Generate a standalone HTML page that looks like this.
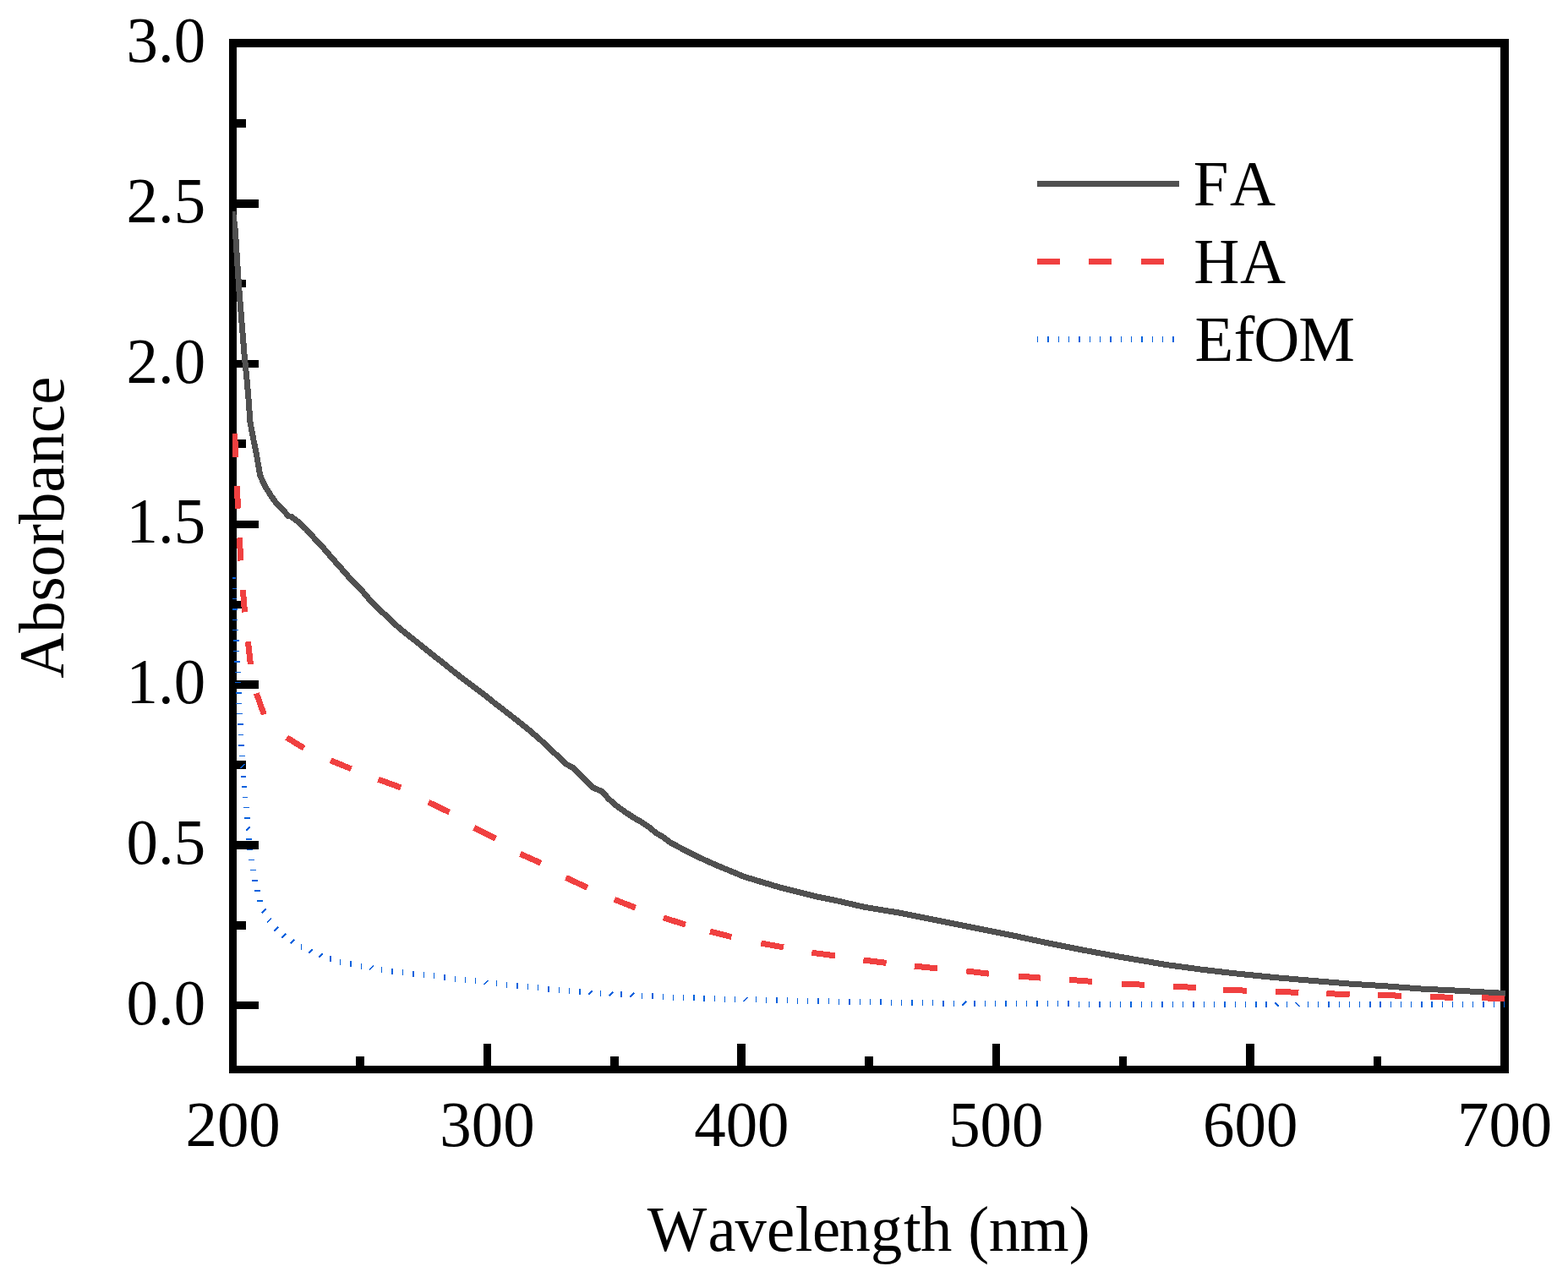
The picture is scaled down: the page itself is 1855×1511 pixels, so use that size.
<!DOCTYPE html>
<html lang="en">
<head>
<meta charset="utf-8">
<title>UV-Vis absorbance spectra</title>
<style>
html,body{margin:0;padding:0;background:#fff;}
body{width:1855px;height:1511px;overflow:hidden;}
svg{display:block;}
</style>
</head>
<body>
<svg width="1855" height="1511" viewBox="0 0 1855 1511">
<rect width="1855" height="1511" fill="#fff"/>
<g id="frame" shape-rendering="crispEdges">
<rect x="271" y="46" width="9" height="1224" fill="#000"/>
<rect x="1775" y="46" width="10" height="1224" fill="#000"/>
<rect x="271" y="46" width="1514" height="10" fill="#000"/>
<rect x="271" y="1261" width="1514" height="9" fill="#000"/>
<rect x="279" y="141" width="12" height="10" fill="#000"/>
<rect x="279" y="236" width="27" height="10" fill="#000"/>
<rect x="279" y="331" width="12" height="9" fill="#000"/>
<rect x="279" y="426" width="27" height="9" fill="#000"/>
<rect x="279" y="520" width="12" height="10" fill="#000"/>
<rect x="279" y="616" width="27" height="9" fill="#000"/>
<rect x="279" y="711" width="12" height="9" fill="#000"/>
<rect x="279" y="805" width="27" height="10" fill="#000"/>
<rect x="279" y="900" width="12" height="10" fill="#000"/>
<rect x="279" y="995" width="27" height="10" fill="#000"/>
<rect x="279" y="1090" width="12" height="10" fill="#000"/>
<rect x="279" y="1185" width="27" height="9" fill="#000"/>
<rect x="421" y="1250" width="10" height="12" fill="#000"/>
<rect x="572" y="1235" width="9" height="27" fill="#000"/>
<rect x="722" y="1250" width="10" height="12" fill="#000"/>
<rect x="872" y="1235" width="10" height="27" fill="#000"/>
<rect x="1023" y="1250" width="10" height="12" fill="#000"/>
<rect x="1174" y="1235" width="9" height="27" fill="#000"/>
<rect x="1324" y="1250" width="9" height="12" fill="#000"/>
<rect x="1474" y="1235" width="10" height="27" fill="#000"/>
<rect x="1625" y="1250" width="9" height="12" fill="#000"/>
</g>
<g id="labels" font-family="'Liberation Serif', serif" fill="#000" style="font-kerning:none">
<text transform="translate(243.2,1211.7) scale(0.97,1)" font-size="77.2px" text-anchor="end">0.0</text>
<text transform="translate(243.2,1021.9) scale(0.97,1)" font-size="77.2px" text-anchor="end">0.5</text>
<text transform="translate(243.2,832.2) scale(0.97,1)" font-size="77.2px" text-anchor="end">1.0</text>
<text transform="translate(243.2,642.4) scale(0.97,1)" font-size="77.2px" text-anchor="end">1.5</text>
<text transform="translate(243.2,452.6) scale(0.97,1)" font-size="77.2px" text-anchor="end">2.0</text>
<text transform="translate(243.2,262.9) scale(0.97,1)" font-size="77.2px" text-anchor="end">2.5</text>
<text transform="translate(243.2,73.1) scale(0.97,1)" font-size="77.2px" text-anchor="end">3.0</text>
<text transform="translate(275.6,1355.6) scale(0.97,1)" font-size="77.2px" text-anchor="middle">200</text>
<text transform="translate(576.5,1355.6) scale(0.97,1)" font-size="77.2px" text-anchor="middle">300</text>
<text transform="translate(877.4,1355.6) scale(0.97,1)" font-size="77.2px" text-anchor="middle">400</text>
<text transform="translate(1178.3,1355.6) scale(0.97,1)" font-size="77.2px" text-anchor="middle">500</text>
<text transform="translate(1479.2,1355.6) scale(0.97,1)" font-size="77.2px" text-anchor="middle">600</text>
<text transform="translate(1780.1,1355.6) scale(0.97,1)" font-size="77.2px" text-anchor="middle">700</text>
<text transform="translate(765.2,1479.7) scale(0.9823,1)" font-size="76px" dx="0.5 1.5 -1.2 0 0.7 -0.4 -1.8 0.3 1.6 -0.7 0 0.1 -0.4 -0.4 0.2">Wavelength (nm)</text>
<text transform="translate(74.6,802.85) rotate(-90) scale(0.9844,1)" font-size="76px">Absorbance</text>
<text transform="translate(1411.8,243.2) scale(0.985,1)" font-size="76px" dx="0 1.5">FA</text>
<text transform="translate(1411.8,335) scale(0.985,1)" font-size="76px" dx="0.4 0.7">HA</text>
<text transform="translate(1412.6,427) scale(0.985,1)" font-size="76px" dx="0.8 0.5 -1.3 -1.1">EfOM</text>
</g>
<g id="legend" shape-rendering="crispEdges">
<rect x="1227" y="214" width="168" height="7" fill="#505050"/>
<rect x="1227" y="306" width="27" height="7" fill="#F04040"/>
<rect x="1288" y="306" width="27" height="7" fill="#F04040"/>
<rect x="1350" y="306" width="27" height="7" fill="#F04040"/>
<rect x="1227" y="398" width="1" height="7" fill="#0661DD"/>
<rect x="1239" y="398" width="2" height="7" fill="#0661DD"/>
<rect x="1252" y="398" width="1" height="7" fill="#0661DD"/>
<rect x="1264" y="398" width="1" height="7" fill="#0661DD"/>
<rect x="1276" y="398" width="2" height="7" fill="#0661DD"/>
<rect x="1289" y="398" width="1" height="7" fill="#0661DD"/>
<rect x="1301" y="398" width="1" height="7" fill="#0661DD"/>
<rect x="1313" y="398" width="2" height="7" fill="#0661DD"/>
<rect x="1326" y="398" width="1" height="7" fill="#0661DD"/>
<rect x="1338" y="398" width="1" height="7" fill="#0661DD"/>
<rect x="1350" y="398" width="2" height="7" fill="#0661DD"/>
<rect x="1363" y="398" width="1" height="7" fill="#0661DD"/>
<rect x="1375" y="398" width="1" height="7" fill="#0661DD"/>
<rect x="1387" y="398" width="2" height="7" fill="#0661DD"/>
</g>
<clipPath id="cp"><rect x="275" y="0" width="1506" height="1511"/></clipPath>
<g id="curves" clip-path="url(#cp)" fill="none" shape-rendering="crispEdges">
<polyline stroke="#505050" stroke-width="7" stroke-linejoin="round" points="275.5,250 278.5,274 279.4,289 281.4,321 282.5,338 289.1,420 291.8,446.5 294.1,473 296,499.4 299.7,519.3 303.7,539.1 307.7,562.5 313.2,574.8 319.8,585.3 325.5,593.6 333.4,601.6 341,610.5 345,611.5 352.9,617.6 362.2,626.2 372.8,638 379.4,644.7 386,652.4 392.7,660.2 403.2,672 412.5,682.6 425.7,696 432.4,703.8 439,711.6 445.6,718.4 458.8,730.3 472.1,743 480,749.4 493.2,759.7 506.5,770.6 519.7,780.9 532.9,791.5 546.2,802.1 559.4,812 572.7,821.9 585.9,832.5 599.1,842.6 612.4,853 625.6,863.6 638.8,874.9 652.1,887.4 660,894.8 669.3,903.8 678.5,908.8 686.5,916.6 694.4,925 701,931.6 712.9,936.9 719.6,944.9 730.2,954.1 739.4,960.7 750,967.6 759.3,973 768.5,979.3 776.5,985.9 784.4,990.4 792.4,996.5 802.9,1002.2 812.2,1007.1 825.5,1013.7 838.7,1019.9 851.9,1025.6 860,1028.9 880.5,1037.4 902,1043.9 923.6,1050.3 945.2,1055.7 966.8,1061.1 988.3,1065.4 1023.1,1073.4 1066.3,1080.5 1109.4,1089.2 1152.6,1097.8 1195.7,1106.4 1238.9,1115.7 1282,1124.3 1325.2,1132.3 1380,1141.6 1423.1,1147.4 1466.3,1152.4 1509.4,1156.7 1552.6,1160.4 1595.7,1164 1638.9,1166.8 1682,1170.1 1725.2,1172.2 1781,1175.5"/>
<line x1="277.8" y1="513.3" x2="278.5" y2="540.8" stroke="#F04040" stroke-width="7"/>
<line x1="280.5" y1="574.9" x2="281.4" y2="601.6" stroke="#F04040" stroke-width="7"/>
<line x1="283.6" y1="636.4" x2="284.5" y2="663.5" stroke="#F04040" stroke-width="7"/>
<line x1="287.4" y1="698.2" x2="289.5" y2="724.4" stroke="#F04040" stroke-width="7"/>
<line x1="293.4" y1="759.2" x2="296.4" y2="786" stroke="#F04040" stroke-width="7"/>
<line x1="303.4" y1="820.4" x2="312.3" y2="845.5" stroke="#F04040" stroke-width="7"/>
<line x1="339.2" y1="872.7" x2="359.5" y2="885.2" stroke="#F04040" stroke-width="7"/>
<line x1="391" y1="899.8" x2="415.5" y2="909.7" stroke="#F04040" stroke-width="7"/>
<line x1="447.6" y1="922.2" x2="474.1" y2="931.9" stroke="#F04040" stroke-width="7"/>
<line x1="506.9" y1="949.2" x2="531.7" y2="961.1" stroke="#F04040" stroke-width="7"/>
<line x1="560.8" y1="979.4" x2="586.3" y2="992.3" stroke="#F04040" stroke-width="7"/>
<line x1="615.5" y1="1010.4" x2="639.9" y2="1021.2" stroke="#F04040" stroke-width="7"/>
<line x1="669.5" y1="1038.5" x2="694.9" y2="1050.3" stroke="#F04040" stroke-width="7"/>
<line x1="726.9" y1="1064.3" x2="751.7" y2="1074.1" stroke="#F04040" stroke-width="7"/>
<line x1="784.9" y1="1085.9" x2="811" y2="1094.1" stroke="#F04040" stroke-width="7"/>
<line x1="839.9" y1="1102.1" x2="865.4" y2="1108.6" stroke="#F04040" stroke-width="7"/>
<line x1="900.3" y1="1116.1" x2="926.9" y2="1120.9" stroke="#F04040" stroke-width="7"/>
<line x1="960.3" y1="1127.3" x2="987.9" y2="1130.8" stroke="#F04040" stroke-width="7"/>
<line x1="1021.4" y1="1136" x2="1048.6" y2="1139.4" stroke="#F04040" stroke-width="7"/>
<line x1="1081.8" y1="1143.1" x2="1108.8" y2="1145.9" stroke="#F04040" stroke-width="7"/>
<line x1="1143.3" y1="1148.9" x2="1169.9" y2="1152.2" stroke="#F04040" stroke-width="7"/>
<line x1="1205" y1="1155" x2="1230.9" y2="1157.1" stroke="#F04040" stroke-width="7"/>
<line x1="1265.2" y1="1159.3" x2="1292" y2="1161.4" stroke="#F04040" stroke-width="7"/>
<line x1="1327.1" y1="1164" x2="1353.9" y2="1165.3" stroke="#F04040" stroke-width="7"/>
<line x1="1388.2" y1="1167.5" x2="1415.2" y2="1168.3" stroke="#F04040" stroke-width="7"/>
<line x1="1447.3" y1="1171.1" x2="1474.9" y2="1172.2" stroke="#F04040" stroke-width="7"/>
<line x1="1509" y1="1173.3" x2="1536.4" y2="1174.4" stroke="#F04040" stroke-width="7"/>
<line x1="1569.4" y1="1175.5" x2="1596.6" y2="1177" stroke="#F04040" stroke-width="7"/>
<line x1="1630.3" y1="1177.2" x2="1657.9" y2="1178.3" stroke="#F04040" stroke-width="7"/>
<line x1="1692.2" y1="1179.3" x2="1718.7" y2="1180.4" stroke="#F04040" stroke-width="7"/>
<line x1="1753.3" y1="1180.9" x2="1780" y2="1181.3" stroke="#F04040" stroke-width="7"/>
<rect x="272" y="683" width="7" height="2" fill="#0661DD" shape-rendering="crispEdges"/>
<rect x="273" y="696" width="7" height="1" fill="#0661DD" shape-rendering="crispEdges"/>
<rect x="273" y="708" width="7" height="1" fill="#0661DD" shape-rendering="crispEdges"/>
<rect x="274" y="720" width="7" height="2" fill="#0661DD" shape-rendering="crispEdges"/>
<rect x="274" y="733" width="7" height="1" fill="#0661DD" shape-rendering="crispEdges"/>
<rect x="275" y="745" width="7" height="1" fill="#0661DD" shape-rendering="crispEdges"/>
<rect x="276" y="757" width="7" height="2" fill="#0661DD" shape-rendering="crispEdges"/>
<rect x="276" y="770" width="7" height="1" fill="#0661DD" shape-rendering="crispEdges"/>
<rect x="277" y="782" width="7" height="2" fill="#0661DD" shape-rendering="crispEdges"/>
<rect x="278" y="795" width="7" height="1" fill="#0661DD" shape-rendering="crispEdges"/>
<rect x="278" y="807" width="7" height="1" fill="#0661DD" shape-rendering="crispEdges"/>
<rect x="279" y="819" width="7" height="2" fill="#0661DD" shape-rendering="crispEdges"/>
<rect x="279" y="832" width="7" height="1" fill="#0661DD" shape-rendering="crispEdges"/>
<rect x="280" y="844" width="7" height="1" fill="#0661DD" shape-rendering="crispEdges"/>
<rect x="281" y="856" width="7" height="2" fill="#0661DD" shape-rendering="crispEdges"/>
<rect x="282" y="869" width="6" height="1" fill="#0661DD" shape-rendering="crispEdges"/>
<rect x="282" y="881" width="7" height="2" fill="#0661DD" shape-rendering="crispEdges"/>
<rect x="283" y="894" width="7" height="1" fill="#0661DD" shape-rendering="crispEdges"/>
<line x1="284.6" y1="908.9" x2="289.4" y2="904.1" stroke="#0661DD" stroke-width="2.0"/>
<rect x="285" y="918" width="6" height="2" fill="#0661DD" shape-rendering="crispEdges"/>
<rect x="286" y="930" width="6" height="2" fill="#0661DD" shape-rendering="crispEdges"/>
<rect x="287" y="943" width="6" height="1" fill="#0661DD" shape-rendering="crispEdges"/>
<rect x="288" y="955" width="7" height="1" fill="#0661DD" shape-rendering="crispEdges"/>
<rect x="289" y="967" width="7" height="2" fill="#0661DD" shape-rendering="crispEdges"/>
<line x1="291.1" y1="982.8" x2="295.9" y2="978.0" stroke="#0661DD" stroke-width="2.0"/>
<rect x="291" y="992" width="7" height="2" fill="#0661DD" shape-rendering="crispEdges"/>
<rect x="292" y="1005" width="7" height="1" fill="#0661DD" shape-rendering="crispEdges"/>
<rect x="294" y="1017" width="7" height="1" fill="#0661DD" shape-rendering="crispEdges"/>
<rect x="296" y="1029" width="7" height="1" fill="#0661DD" shape-rendering="crispEdges"/>
<rect x="298" y="1041" width="7" height="2" fill="#0661DD" shape-rendering="crispEdges"/>
<rect x="301" y="1053" width="7" height="2" fill="#0661DD" shape-rendering="crispEdges"/>
<rect x="304" y="1065" width="7" height="2" fill="#0661DD" shape-rendering="crispEdges"/>
<line x1="309.6" y1="1080.2" x2="314.4" y2="1075.4" stroke="#0661DD" stroke-width="2.0"/>
<line x1="316.0" y1="1091.2" x2="320.8" y2="1086.4" stroke="#0661DD" stroke-width="1.4"/>
<line x1="324.4" y1="1101.8" x2="329.2" y2="1097.0" stroke="#0661DD" stroke-width="2.0"/>
<line x1="333.6" y1="1109.7" x2="338.4" y2="1104.9" stroke="#0661DD" stroke-width="2.0"/>
<line x1="343.5" y1="1116.2" x2="348.3" y2="1111.4" stroke="#0661DD" stroke-width="2.0"/>
<rect x="356" y="1117" width="1" height="7" fill="#0661DD" shape-rendering="crispEdges"/>
<line x1="364.9" y1="1127.9" x2="369.7" y2="1123.1" stroke="#0661DD" stroke-width="2.0"/>
<line x1="377.0" y1="1132.7" x2="381.8" y2="1127.9" stroke="#0661DD" stroke-width="2.0"/>
<rect x="390" y="1131" width="2" height="7" fill="#0661DD" shape-rendering="crispEdges"/>
<rect x="402" y="1135" width="1" height="7" fill="#0661DD" shape-rendering="crispEdges"/>
<rect x="414" y="1137" width="2" height="7" fill="#0661DD" shape-rendering="crispEdges"/>
<rect x="427" y="1140" width="1" height="7" fill="#0661DD" shape-rendering="crispEdges"/>
<line x1="437.1" y1="1147.4" x2="441.9" y2="1142.6" stroke="#0661DD" stroke-width="1.4"/>
<rect x="451" y="1144" width="1" height="7" fill="#0661DD" shape-rendering="crispEdges"/>
<rect x="463" y="1146" width="2" height="7" fill="#0661DD" shape-rendering="crispEdges"/>
<rect x="476" y="1147" width="1" height="7" fill="#0661DD" shape-rendering="crispEdges"/>
<rect x="488" y="1149" width="2" height="7" fill="#0661DD" shape-rendering="crispEdges"/>
<rect x="501" y="1150" width="1" height="7" fill="#0661DD" shape-rendering="crispEdges"/>
<rect x="513" y="1151" width="1" height="7" fill="#0661DD" shape-rendering="crispEdges"/>
<rect x="525" y="1153" width="2" height="7" fill="#0661DD" shape-rendering="crispEdges"/>
<rect x="538" y="1155" width="1" height="7" fill="#0661DD" shape-rendering="crispEdges"/>
<rect x="550" y="1156" width="1" height="7" fill="#0661DD" shape-rendering="crispEdges"/>
<rect x="562" y="1157" width="1" height="7" fill="#0661DD" shape-rendering="crispEdges"/>
<line x1="572.6" y1="1164.9" x2="577.4" y2="1160.1" stroke="#0661DD" stroke-width="1.9"/>
<rect x="587" y="1160" width="1" height="7" fill="#0661DD" shape-rendering="crispEdges"/>
<rect x="599" y="1162" width="1" height="7" fill="#0661DD" shape-rendering="crispEdges"/>
<rect x="611" y="1163" width="2" height="7" fill="#0661DD" shape-rendering="crispEdges"/>
<rect x="624" y="1164" width="1" height="7" fill="#0661DD" shape-rendering="crispEdges"/>
<rect x="636" y="1165" width="1" height="7" fill="#0661DD" shape-rendering="crispEdges"/>
<rect x="648" y="1167" width="2" height="7" fill="#0661DD" shape-rendering="crispEdges"/>
<rect x="661" y="1168" width="1" height="7" fill="#0661DD" shape-rendering="crispEdges"/>
<rect x="673" y="1169" width="1" height="7" fill="#0661DD" shape-rendering="crispEdges"/>
<rect x="685" y="1170" width="2" height="7" fill="#0661DD" shape-rendering="crispEdges"/>
<line x1="696.0" y1="1176.8" x2="700.8" y2="1172.0" stroke="#0661DD" stroke-width="1.9"/>
<rect x="710" y="1172" width="1" height="7" fill="#0661DD" shape-rendering="crispEdges"/>
<line x1="720.6" y1="1178.3" x2="725.4" y2="1173.5" stroke="#0661DD" stroke-width="1.9"/>
<rect x="734" y="1173" width="2" height="7" fill="#0661DD" shape-rendering="crispEdges"/>
<line x1="745.2" y1="1179.6" x2="750.0" y2="1174.8" stroke="#0661DD" stroke-width="1.9"/>
<rect x="759" y="1175" width="1" height="7" fill="#0661DD" shape-rendering="crispEdges"/>
<rect x="771" y="1175" width="2" height="7" fill="#0661DD" shape-rendering="crispEdges"/>
<rect x="784" y="1176" width="1" height="7" fill="#0661DD" shape-rendering="crispEdges"/>
<rect x="796" y="1177" width="1" height="7" fill="#0661DD" shape-rendering="crispEdges"/>
<rect x="808" y="1177" width="1" height="7" fill="#0661DD" shape-rendering="crispEdges"/>
<rect x="820" y="1177" width="2" height="7" fill="#0661DD" shape-rendering="crispEdges"/>
<rect x="832" y="1178" width="2" height="7" fill="#0661DD" shape-rendering="crispEdges"/>
<rect x="845" y="1178" width="1" height="7" fill="#0661DD" shape-rendering="crispEdges"/>
<rect x="857" y="1179" width="1" height="7" fill="#0661DD" shape-rendering="crispEdges"/>
<rect x="869" y="1179" width="1" height="7" fill="#0661DD" shape-rendering="crispEdges"/>
<line x1="879.6" y1="1185.1" x2="884.4" y2="1180.3" stroke="#0661DD" stroke-width="1.8"/>
<rect x="894" y="1179" width="1" height="7" fill="#0661DD" shape-rendering="crispEdges"/>
<rect x="906" y="1180" width="1" height="7" fill="#0661DD" shape-rendering="crispEdges"/>
<rect x="918" y="1180" width="2" height="7" fill="#0661DD" shape-rendering="crispEdges"/>
<rect x="931" y="1180" width="1" height="7" fill="#0661DD" shape-rendering="crispEdges"/>
<rect x="943" y="1181" width="1" height="7" fill="#0661DD" shape-rendering="crispEdges"/>
<rect x="955" y="1181" width="1" height="7" fill="#0661DD" shape-rendering="crispEdges"/>
<rect x="967" y="1181" width="2" height="7" fill="#0661DD" shape-rendering="crispEdges"/>
<rect x="980" y="1181" width="1" height="7" fill="#0661DD" shape-rendering="crispEdges"/>
<rect x="992" y="1182" width="1" height="7" fill="#0661DD" shape-rendering="crispEdges"/>
<rect x="1004" y="1182" width="2" height="7" fill="#0661DD" shape-rendering="crispEdges"/>
<rect x="1017" y="1182" width="1" height="7" fill="#0661DD" shape-rendering="crispEdges"/>
<rect x="1029" y="1182" width="1" height="7" fill="#0661DD" shape-rendering="crispEdges"/>
<rect x="1041" y="1182" width="2" height="7" fill="#0661DD" shape-rendering="crispEdges"/>
<rect x="1054" y="1183" width="1" height="7" fill="#0661DD" shape-rendering="crispEdges"/>
<rect x="1066" y="1183" width="1" height="7" fill="#0661DD" shape-rendering="crispEdges"/>
<rect x="1078" y="1183" width="2" height="7" fill="#0661DD" shape-rendering="crispEdges"/>
<rect x="1091" y="1183" width="1" height="7" fill="#0661DD" shape-rendering="crispEdges"/>
<rect x="1103" y="1183" width="1" height="7" fill="#0661DD" shape-rendering="crispEdges"/>
<rect x="1115" y="1184" width="2" height="7" fill="#0661DD" shape-rendering="crispEdges"/>
<rect x="1128" y="1184" width="1" height="7" fill="#0661DD" shape-rendering="crispEdges"/>
<line x1="1138.2" y1="1189.8" x2="1143.0" y2="1185.0" stroke="#0661DD" stroke-width="1.8"/>
<rect x="1152" y="1184" width="2" height="7" fill="#0661DD" shape-rendering="crispEdges"/>
<rect x="1165" y="1184" width="1" height="7" fill="#0661DD" shape-rendering="crispEdges"/>
<rect x="1177" y="1184" width="1" height="7" fill="#0661DD" shape-rendering="crispEdges"/>
<rect x="1189" y="1184" width="2" height="7" fill="#0661DD" shape-rendering="crispEdges"/>
<rect x="1202" y="1184" width="1" height="7" fill="#0661DD" shape-rendering="crispEdges"/>
<rect x="1214" y="1184" width="1" height="7" fill="#0661DD" shape-rendering="crispEdges"/>
<rect x="1226" y="1184" width="2" height="7" fill="#0661DD" shape-rendering="crispEdges"/>
<rect x="1239" y="1184" width="1" height="7" fill="#0661DD" shape-rendering="crispEdges"/>
<rect x="1251" y="1184" width="1" height="7" fill="#0661DD" shape-rendering="crispEdges"/>
<rect x="1263" y="1184" width="2" height="7" fill="#0661DD" shape-rendering="crispEdges"/>
<rect x="1276" y="1185" width="1" height="7" fill="#0661DD" shape-rendering="crispEdges"/>
<rect x="1288" y="1185" width="1" height="7" fill="#0661DD" shape-rendering="crispEdges"/>
<rect x="1300" y="1185" width="2" height="7" fill="#0661DD" shape-rendering="crispEdges"/>
<rect x="1313" y="1185" width="1" height="7" fill="#0661DD" shape-rendering="crispEdges"/>
<rect x="1325" y="1185" width="1" height="7" fill="#0661DD" shape-rendering="crispEdges"/>
<rect x="1337" y="1185" width="2" height="7" fill="#0661DD" shape-rendering="crispEdges"/>
<rect x="1350" y="1185" width="1" height="7" fill="#0661DD" shape-rendering="crispEdges"/>
<rect x="1362" y="1185" width="1" height="7" fill="#0661DD" shape-rendering="crispEdges"/>
<rect x="1374" y="1185" width="2" height="7" fill="#0661DD" shape-rendering="crispEdges"/>
<rect x="1387" y="1185" width="1" height="7" fill="#0661DD" shape-rendering="crispEdges"/>
<rect x="1399" y="1185" width="1" height="7" fill="#0661DD" shape-rendering="crispEdges"/>
<rect x="1411" y="1185" width="2" height="7" fill="#0661DD" shape-rendering="crispEdges"/>
<rect x="1424" y="1185" width="1" height="7" fill="#0661DD" shape-rendering="crispEdges"/>
<rect x="1436" y="1185" width="1" height="7" fill="#0661DD" shape-rendering="crispEdges"/>
<rect x="1448" y="1185" width="2" height="7" fill="#0661DD" shape-rendering="crispEdges"/>
<rect x="1461" y="1185" width="1" height="7" fill="#0661DD" shape-rendering="crispEdges"/>
<rect x="1473" y="1185" width="1" height="7" fill="#0661DD" shape-rendering="crispEdges"/>
<rect x="1485" y="1185" width="2" height="7" fill="#0661DD" shape-rendering="crispEdges"/>
<rect x="1497" y="1185" width="2" height="7" fill="#0661DD" shape-rendering="crispEdges"/>
<line x1="1508.0" y1="1186.1" x2="1512.8" y2="1190.9" stroke="#0661DD" stroke-width="1.8"/>
<rect x="1522" y="1185" width="1" height="7" fill="#0661DD" shape-rendering="crispEdges"/>
<line x1="1532.6" y1="1186.1" x2="1537.4" y2="1190.9" stroke="#0661DD" stroke-width="1.8"/>
<rect x="1547" y="1185" width="1" height="7" fill="#0661DD" shape-rendering="crispEdges"/>
<rect x="1559" y="1185" width="1" height="7" fill="#0661DD" shape-rendering="crispEdges"/>
<rect x="1571" y="1185" width="2" height="7" fill="#0661DD" shape-rendering="crispEdges"/>
<rect x="1584" y="1185" width="1" height="7" fill="#0661DD" shape-rendering="crispEdges"/>
<rect x="1596" y="1185" width="1" height="7" fill="#0661DD" shape-rendering="crispEdges"/>
<rect x="1608" y="1185" width="1" height="7" fill="#0661DD" shape-rendering="crispEdges"/>
<rect x="1620" y="1185" width="2" height="7" fill="#0661DD" shape-rendering="crispEdges"/>
<rect x="1632" y="1185" width="2" height="7" fill="#0661DD" shape-rendering="crispEdges"/>
<rect x="1645" y="1185" width="1" height="7" fill="#0661DD" shape-rendering="crispEdges"/>
<rect x="1657" y="1185" width="1" height="7" fill="#0661DD" shape-rendering="crispEdges"/>
<rect x="1669" y="1185" width="1" height="7" fill="#0661DD" shape-rendering="crispEdges"/>
<rect x="1681" y="1185" width="2" height="7" fill="#0661DD" shape-rendering="crispEdges"/>
<rect x="1693" y="1185" width="2" height="7" fill="#0661DD" shape-rendering="crispEdges"/>
<rect x="1706" y="1185" width="1" height="7" fill="#0661DD" shape-rendering="crispEdges"/>
<rect x="1718" y="1185" width="1" height="7" fill="#0661DD" shape-rendering="crispEdges"/>
<rect x="1730" y="1185" width="1" height="7" fill="#0661DD" shape-rendering="crispEdges"/>
<rect x="1742" y="1185" width="1" height="7" fill="#0661DD" shape-rendering="crispEdges"/>
<rect x="1754" y="1185" width="2" height="7" fill="#0661DD" shape-rendering="crispEdges"/>
<rect x="1767" y="1185" width="1" height="7" fill="#0661DD" shape-rendering="crispEdges"/>
<rect x="1779" y="1185" width="1" height="7" fill="#0661DD" shape-rendering="crispEdges"/>
</g>
</svg>
</body>
</html>
